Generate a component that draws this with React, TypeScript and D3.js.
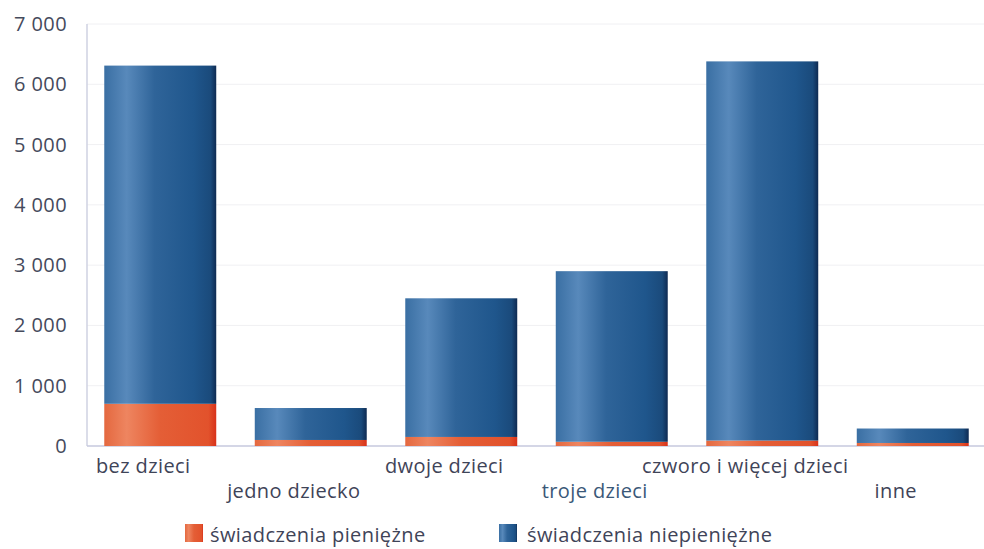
import React from "react";
import * as d3 from "d3";

const categories = ["bez dzieci", "jedno dziecko", "dwoje dzieci", "troje dzieci", "czworo i więcej dzieci", "inne"];
const pieniezne = [700, 100, 150, 70, 90, 50];
const niepieniezne = [5610, 530, 2300, 2830, 6290, 240];
const yTicks = [0, 1000, 2000, 3000, 4000, 5000, 6000, 7000];
const seriesNames = ["świadczenia pieniężne", "świadczenia niepieniężne"];

const W = 984;
const H = 549;
const FONT = "'Open Sans', 'Noto Sans', sans-serif";

export default function App() {
  const x = d3.scaleBand<string>().domain(categories).range([85, 988]).paddingInner(0.256).paddingOuter(0.128);
  const y = d3.scaleLinear().domain([0, 7000]).range([446, 24]);
  const fmt = (v: number) => d3.format(",")(v).replace(/,/g, " ");

  const stackData = categories.map((c, i) => ({ c, p: pieniezne[i], n: niepieniezne[i] }));
  const stack = d3.stack<any>().keys(["p", "n"])(stackData);

  const txt = { fontFamily: FONT, fontSize: 20, letterSpacing: 0.4 } as const;

  return (
    <svg width={W} height={H} style={{ position: "absolute", left: 0, top: 0, background: "#fff" }}>
      <defs>
        <linearGradient id="gBlue" x1="0" x2="1" y1="0" y2="0">
          <stop offset="0" stopColor="#3a6fa3" />
          <stop offset="0.2" stopColor="#5889bb" />
          <stop offset="0.45" stopColor="#2f6499" />
          <stop offset="0.8" stopColor="#1f568c" />
          <stop offset="0.95" stopColor="#1a4a7b" />
          <stop offset="1" stopColor="#0e2a52" />
        </linearGradient>
        <linearGradient id="gOrange" x1="0" x2="1" y1="0" y2="0">
          <stop offset="0" stopColor="#e4683f" />
          <stop offset="0.2" stopColor="#ee8560" />
          <stop offset="0.5" stopColor="#e45e36" />
          <stop offset="0.93" stopColor="#e2522c" />
          <stop offset="1" stopColor="#d8321a" />
        </linearGradient>
      </defs>
      {yTicks.filter((t) => t > 0).map((t) => (
        <line key={t} x1={87} x2={W} y1={y(t)} y2={y(t)} stroke="#f0f0f3" strokeWidth={1} />
      ))}
      <line x1={87} x2={87} y1={y(7000)} y2={y(0)} stroke="#cfd2e2" strokeWidth={1.5} />
      <line x1={87} x2={W} y1={y(0)} y2={y(0)} stroke="#c6c9de" strokeWidth={1.5} />
      {yTicks.map((t) => (
        <text key={t} x={67} y={y(t) + 7} textAnchor="end" {...txt} fill="#454a5c">
          {fmt(t)}
        </text>
      ))}
      {stack.map((s, si) =>
        s.map((d, i) => (
          <rect
            key={si + "-" + i}
            x={x(categories[i])!}
            width={x.bandwidth()}
            y={y(d[1])}
            height={y(d[0]) - y(d[1])}
            fill={si === 0 ? "url(#gOrange)" : "url(#gBlue)"}
          />
        ))
      )}
      {categories.map((c, i) => (
        <text
          key={c}
          x={x(c)! + x.bandwidth() / 2 - 17}
          y={i % 2 === 0 ? 473 : 498}
          textAnchor="middle"
          {...txt}
          fill={i === 3 ? "#3a5878" : "#3f4458"}
        >
          {c}
        </text>
      ))}
      <rect x={185} y={524} width={18} height={18} fill="url(#gOrange)" />
      <text x={210} y={542} {...txt} fill="#3f4458">{seriesNames[0]}</text>
      <rect x={499} y={524} width={18} height={18} fill="url(#gBlue)" />
      <text x={527} y={542} {...txt} fill="#3f4458">{seriesNames[1]}</text>
    </svg>
  );
}
